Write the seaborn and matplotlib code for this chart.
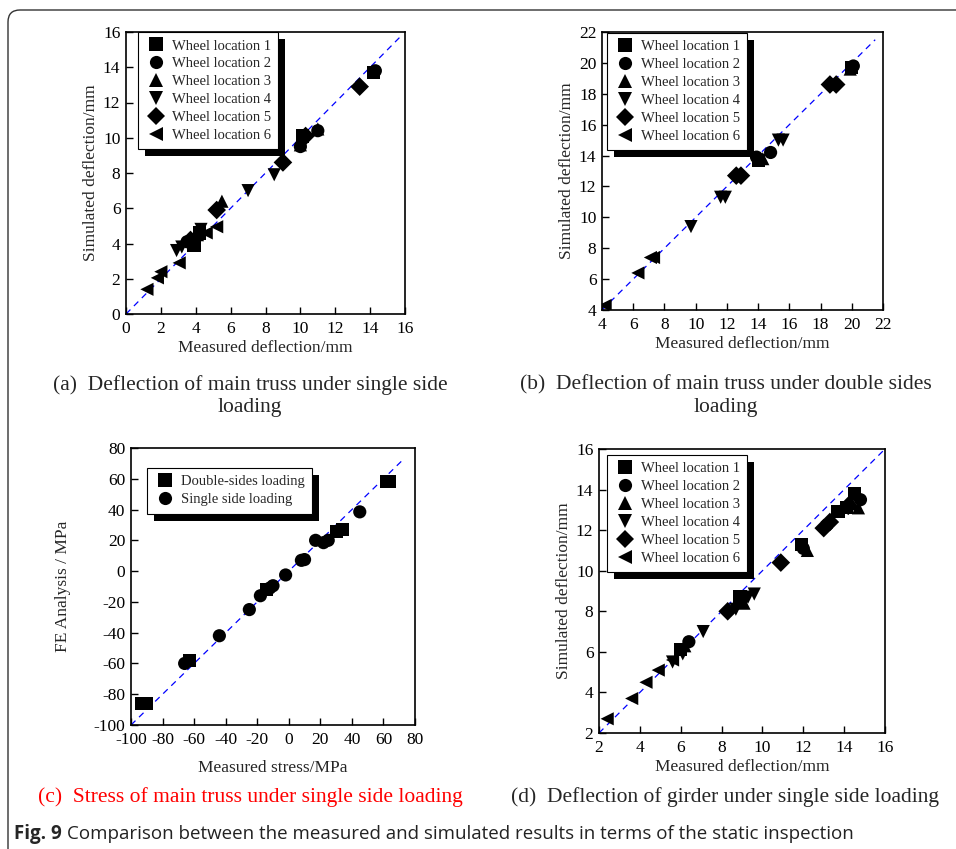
import numpy as np
import pandas as pd
import matplotlib.pyplot as plt
import seaborn as sns
from matplotlib.patches import Rectangle, FancyBboxPatch
from matplotlib.transforms import IdentityTransform

# ---- data ----
wheel_names = ['Wheel location 1', 'Wheel location 2', 'Wheel location 3',
               'Wheel location 4', 'Wheel location 5', 'Wheel location 6']
wheel_markers = ['s', 'o', '^', 'v', 'D', '<']

# (a) main truss, single side loading
a_loc = [1, 1, 1, 1, 2, 2, 2, 2, 3, 3, 3, 3, 4, 4, 4, 4, 4, 5, 5, 5, 5, 5, 6, 6, 6, 6, 6, 6]
a_meas = [3.9, 4.2, 10.1, 14.2, 3.5, 10.0, 11.0, 14.3, 4.1, 5.5, 10.0, 11.0,
          2.9, 3.2, 4.3, 7.0, 8.5, 3.7, 5.2, 9.0, 10.3, 13.4,
          1.2, 1.8, 2.0, 3.05, 4.6, 5.2]
a_sim = [3.9, 4.6, 10.1, 13.7, 4.1, 9.5, 10.4, 13.8, 4.5, 6.4, 9.6, 10.5,
         3.6, 3.8, 4.8, 7.0, 7.9, 4.2, 5.9, 8.6, 10.1, 12.9,
         1.4, 2.05, 2.4, 2.9, 4.6, 4.95]

# (b) main truss, double sides loading
b_loc = [1, 1, 2, 2, 2, 3, 3, 4, 4, 4, 4, 4, 5, 5, 5, 5, 6, 6, 6, 6]
b_meas = [14.0, 20.0, 13.9, 14.8, 20.1, 14.3, 19.9,
          9.7, 11.6, 11.9, 15.3, 15.6, 12.6, 12.9, 18.6, 19.0,
          4.2, 6.3, 7.1, 7.3]
b_sim = [13.7, 19.7, 13.9, 14.2, 19.8, 13.8, 19.6,
         9.4, 11.3, 11.3, 15.0, 15.0, 12.7, 12.7, 18.6, 18.6,
         4.3, 6.4, 7.4, 7.4]

# (c) stress of main truss
case_names = ['Double-sides loading', 'Single side loading']
case_markers = ['s', 'o']
c_case = [1, 1, 1, 1, 1, 1, 1, 1, 2, 2, 2, 2, 2, 2, 2, 2, 2, 2, 2, 2, 2]
c_meas = [-93, -90, -63, -14, 30, 34, 62, 64,
          -66, -44, -25, -18, -10, -2, 8, 10, 17, 22, 25, 45, -12]
c_sim = [-86, -86, -58, -12, 25.5, 27, 58, 58,
         -60, -42, -25, -16, -9.5, -2.5, 7, 7.5, 20, 18.5, 20, 38.5, -11]

# (d) girder, single side loading
d_loc = [1, 1, 1, 1, 1, 1, 2, 2, 2, 2, 3, 3, 3, 3, 3,
         4, 4, 4, 4, 4, 4, 5, 5, 5, 5, 5, 6, 6, 6, 6, 6]
d_meas = [6.0, 8.9, 11.9, 13.7, 14.5, 14.1, 6.4, 9.0, 12.0, 14.8,
          6.2, 9.1, 12.2, 14.7, 14.4,
          5.6, 6.1, 7.1, 8.7, 9.6, 9.3, 8.3, 10.9, 13.0, 13.3, 14.2,
          2.4, 3.6, 4.3, 4.9, 5.6]
d_sim = [6.1, 8.7, 11.3, 12.9, 13.8, 13.1, 6.5, 8.6, 11.1, 13.5,
         6.3, 8.4, 11.0, 13.1, 13.3,
         5.5, 5.9, 7.0, 8.1, 8.85, 8.7, 8.0, 10.4, 12.1, 12.4, 13.2,
         2.7, 3.7, 4.5, 5.1, 5.6]

W, H = 956, 849

sns.set_style('ticks')
plt.rcParams['font.family'] = ['Liberation Serif', 'DejaVu Serif']
plt.rcParams['axes.unicode_minus'] = False

fig = plt.figure(figsize=(W / 100, H / 100), dpi=100)


def px_axes(x0, y0, x1, y1):
    # pixel box (from top-left) -> figure fraction axes
    return fig.add_axes([x0 / W, 1 - y1 / H, (x1 - x0) / W, (y1 - y0) / H])


def panel(ax, meas, sim, grp, names, markers, lim, step, line_end,
          xlabel, ylabel, leg_off, xpad=2, ypad=3):
    df = pd.DataFrame({'meas': meas, 'sim': sim,
                       'grp': [names[g - 1] for g in grp]})
    ax.plot([lim[0], line_end], [lim[0], line_end], ls='--', color='blue',
            lw=0.9, dashes=(5, 4), zorder=1)
    sns.scatterplot(data=df, x='meas', y='sim', style='grp', style_order=names,
                    markers=dict(zip(names, markers)), color='k', s=90,
                    linewidth=0, ax=ax, zorder=3)
    ax.set_xlim(lim)
    ax.set_ylim(lim)
    ticks = np.arange(lim[0], lim[1] + 0.1, step)
    ax.set_xticks(ticks)
    ax.set_yticks(ticks)
    ax.tick_params(direction='in', length=5, width=1, top=False, right=False,
                   labelsize=12.5, colors='k')
    ax.tick_params(axis='x', pad=5)
    ax.tick_params(axis='y', pad=4)
    for sp in ax.spines.values():
        sp.set_linewidth(1.2)
        sp.set_color('k')
    ax.set_xlabel(xlabel, fontsize=12.5, labelpad=xpad)
    ax.set_ylabel(ylabel, fontsize=12.5, labelpad=ypad)
    handles, labels = ax.get_legend_handles_labels()
    leg = ax.legend(handles, labels, loc='upper left', bbox_to_anchor=leg_off,
                    borderaxespad=0, fancybox=False, framealpha=1, edgecolor='k',
                    fontsize=10.5, handletextpad=0.3, labelspacing=0.32,
                    borderpad=0.5, handlelength=1.5)
    leg.get_frame().set_linewidth(0.8)
    leg.set_zorder(6)
    return leg


ax_a = px_axes(126, 32, 405, 314)
ax_b = px_axes(602, 32, 883, 310)
ax_c = px_axes(131, 448, 415, 725)
ax_d = px_axes(599, 449, 885, 733)

legs = []
legs.append(panel(ax_a, a_meas, a_sim, a_loc, wheel_names, wheel_markers, (0, 16), 2, 15.7,
                  'Measured deflection/mm', 'Simulated deflection/mm', (12 / 279, 1.0)))
legs.append(panel(ax_b, b_meas, b_sim, b_loc, wheel_names, wheel_markers, (4, 22), 2, 21.5,
                  'Measured deflection/mm', 'Simulated deflection/mm', (5 / 281, 1 - 1 / 278)))
legs.append(panel(ax_c, c_meas, c_sim, c_case, case_names, case_markers, (-100, 80), 20, 73,
                  'Measured stress/MPa', 'FE Analysis / MPa', (16 / 284, 1 - 20 / 277),
                  xpad=9, ypad=16))
legs.append(panel(ax_d, d_meas, d_sim, d_loc, wheel_names, wheel_markers, (2, 16), 2, 16,
                  'Measured deflection/mm', 'Simulated deflection/mm', (8 / 286, 1 - 6 / 284)))

# sub-figure captions
cap_kw = dict(ha='center', va='center', fontsize=15.5, linespacing=1.2)
fig.text(250 / W, 1 - 396 / H, '(a)  Deflection of main truss under single side\nloading', **cap_kw)
fig.text(726 / W, 1 - 396 / H, '(b)  Deflection of main truss under double sides\nloading', **cap_kw)
fig.text(250 / W, 1 - 797 / H, '(c)  Stress of main truss under single side loading',
         color='red', **cap_kw)
fig.text(725 / W, 1 - 797 / H, '(d)  Deflection of girder under single side loading', **cap_kw)

# outer frame
fig.patches.append(FancyBboxPatch((8, -30), 980, H - 10 + 30,
                                  boxstyle='round,pad=0,rounding_size=12',
                                  transform=IdentityTransform(), fill=False,
                                  edgecolor='#333333', lw=1.0))

fig.canvas.draw()
renderer = fig.canvas.get_renderer()

# black drop shadows behind legends
for ax, leg in zip([ax_a, ax_b, ax_c, ax_d], legs):
    bb = leg.get_window_extent(renderer)
    sh = Rectangle((bb.x0 + 7, bb.y0 - 7), bb.width, bb.height,
                   transform=IdentityTransform(), facecolor='k',
                   edgecolor='none', zorder=5.5, clip_on=False)
    ax.add_artist(sh)

# figure caption
t1 = fig.text(14 / W, 1 - 834 / H, 'Fig. 9', fontsize=13.5, fontweight='bold',
              family=['Open Sans', 'DejaVu Sans'], va='center', ha='left')
fig.canvas.draw()
bb = t1.get_window_extent(renderer)
fig.text((bb.x1 + 5) / W, 1 - 834 / H,
         'Comparison between the measured and simulated results in terms of the static inspection',
         fontsize=13.5, family=['Open Sans', 'DejaVu Sans'], va='center', ha='left',
         color='#222222')

fig.savefig('out.png', dpi=100)
